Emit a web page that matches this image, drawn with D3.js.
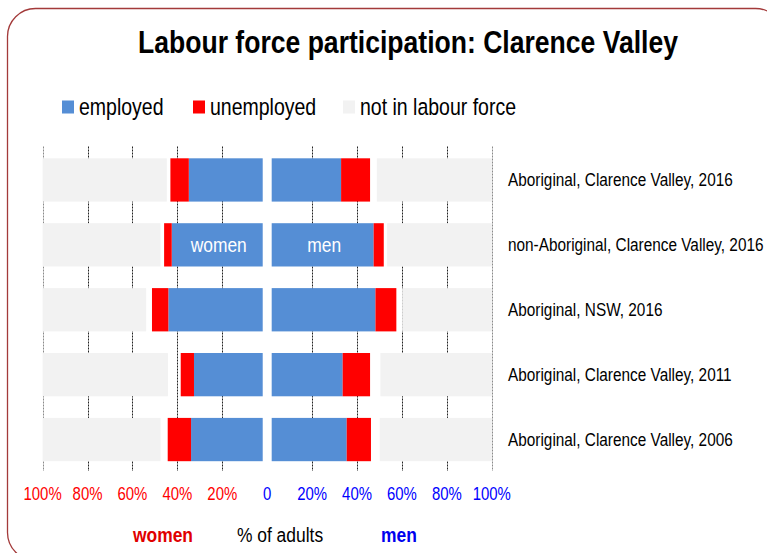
<!DOCTYPE html>
<html>
<head>
<meta charset="utf-8">
<script src="https://cdn.jsdelivr.net/npm/d3@7"></script>
<style>
  body { margin: 0; background: #fff; }
  svg { display: block; font-family: "Liberation Sans", Arial, sans-serif; }
</style>
</head>
<body>
<div id="chart"></div>
<script>
// rows, top to bottom
const categories = [
  "Aboriginal, Clarence Valley, 2016",
  "non-Aboriginal, Clarence Valley, 2016",
  "Aboriginal, NSW, 2016",
  "Aboriginal, Clarence Valley, 2011",
  "Aboriginal, Clarence Valley, 2006"
];
// % of adults
const womenEmployed   = [32.9, 40.5, 42.0, 30.6, 31.9];
const womenUnemployed = [8.2, 3.4, 7.3, 5.9, 10.4];
const womenNotInLF    = [55.3, 52.5, 46.1, 55.8, 52.5];
const menEmployed     = [30.9, 45.4, 46.2, 31.6, 33.4];
const menUnemployed   = [12.9, 4.5, 9.3, 12.2, 10.8];
const menNotInLF      = [51.2, 46.6, 39.9, 49.6, 49.9];
const centreGap = 2; // blank spacer either side of zero
const tickValues = [-100, -80, -60, -40, -20, 0, 20, 40, 60, 80, 100];
const legendItems = ["employed", "unemployed", "not in labour force"];

const colors = { employed: "#558ed5", unemployed: "#ff0000", nilf: "#f2f2f2" };
const W = 767, H = 553;
const squeeze = 0.83; // the text in the picture is horizontally narrow

const svg = d3.select("#chart").append("svg")
  .attr("width", W)
  .attr("height", H);

// frame
svg.append("rect")
  .attr("x", 7.5).attr("y", 8.5)
  .attr("width", 776).attr("height", 552)
  .attr("rx", 28).attr("ry", 28)
  .attr("fill", "none")
  .attr("stroke", "#a33a3a")
  .attr("stroke-width", 1.3);

function txt(x, y, s, size, opt) {
  opt = opt || {};
  return svg.append("text")
    .attr("transform", "translate(" + x + "," + y + ") scale(" + squeeze + ",1)")
    .attr("font-size", size)
    .attr("font-weight", opt.bold ? "bold" : null)
    .attr("fill", opt.fill || "#000")
    .attr("text-anchor", opt.anchor || "start")
    .attr("dominant-baseline", "central")
    .text(s);
}

// title
txt(408, 42, "Labour force participation: Clarence Valley", 32, { bold: true, anchor: "middle" });

// legend
const legendX = [62, 193, 343];
const legendColors = [colors.employed, colors.unemployed, colors.nilf];
legendItems.forEach(function(d, i) {
  svg.append("rect")
    .attr("x", legendX[i]).attr("y", 100.5)
    .attr("width", 12).attr("height", 13)
    .attr("fill", legendColors[i]);
  txt(legendX[i] + 17, 107, d, 23.5);
});

// scales
const x = d3.scaleLinear().domain([-100, 100]).range([42.6, 491.8]);
const y = d3.scaleBand().domain(categories).range([147.5, 472]).paddingInner(0.333).paddingOuter(0.1665);
const plotTop = 146.5, plotBottom = 471;

// gridlines (no line at zero)
svg.append("g")
  .selectAll("line")
  .data(tickValues.filter(function(t) { return t !== 0; }))
  .join("line")
  .attr("x1", function(d) { return Math.round(x(d)) + 0.5; })
  .attr("x2", function(d) { return Math.round(x(d)) + 0.5; })
  .attr("y1", plotTop).attr("y2", plotBottom)
  .attr("stroke", function(d) { return Math.abs(d) === 100 ? "#8a8a8a" : "#222"; })
  .attr("stroke-width", 1)
  .attr("stroke-dasharray", "2,1");

// bars
const rows = categories.map(function(c, i) {
  return {
    cat: c,
    women: [womenEmployed[i], womenUnemployed[i], womenNotInLF[i]],
    men: [menEmployed[i], menUnemployed[i], menNotInLF[i]]
  };
});

function segs(vals, sign) {
  const emp0 = centreGap, emp1 = centreGap + vals[0];
  const un1 = emp1 + vals[1];
  return [
    { a: sign * emp0, b: sign * emp1, color: colors.employed },
    { a: sign * emp1, b: sign * un1, color: colors.unemployed },
    { a: sign * (100 - vals[2]), b: sign * 100, color: colors.nilf }
  ];
}

const barG = svg.append("g");
rows.forEach(function(r) {
  const all = segs(r.women, -1).concat(segs(r.men, 1));
  barG.selectAll(null)
    .data(all)
    .join("rect")
    .attr("x", function(d) { return Math.min(x(d.a), x(d.b)); })
    .attr("width", function(d) { return Math.abs(x(d.b) - x(d.a)); })
    .attr("y", y(r.cat))
    .attr("height", y.bandwidth())
    .attr("fill", function(d) { return d.color; });
});

// women / men labels on the second row
const r2 = categories[1];
const cy2 = y(r2) + y.bandwidth() / 2;
txt(x(-(centreGap + womenEmployed[1] / 2)) + 1.5, cy2, "women", 21, { fill: "#fff", anchor: "middle" });
txt(x(centreGap + menEmployed[1] / 2) + 1.5, cy2, "men", 21, { fill: "#fff", anchor: "middle" });

// category labels at right
categories.forEach(function(c) {
  txt(508, y(c) + y.bandwidth() / 2, c, 18.5);
});

// tick labels
tickValues.forEach(function(t) {
  txt(x(t), 494, t === 0 ? "0" : Math.abs(t) + "%", 18, {
    anchor: "middle",
    fill: t < 0 ? "#ff0000" : "#0000ff"
  });
});

// axis titles
txt(163, 535, "women", 21, { bold: true, fill: "#e00000", anchor: "middle" });
txt(280, 535, "% of adults", 21, { anchor: "middle" });
txt(399, 535, "men", 21, { bold: true, fill: "#0000ee", anchor: "middle" });
</script>
</body>
</html>
